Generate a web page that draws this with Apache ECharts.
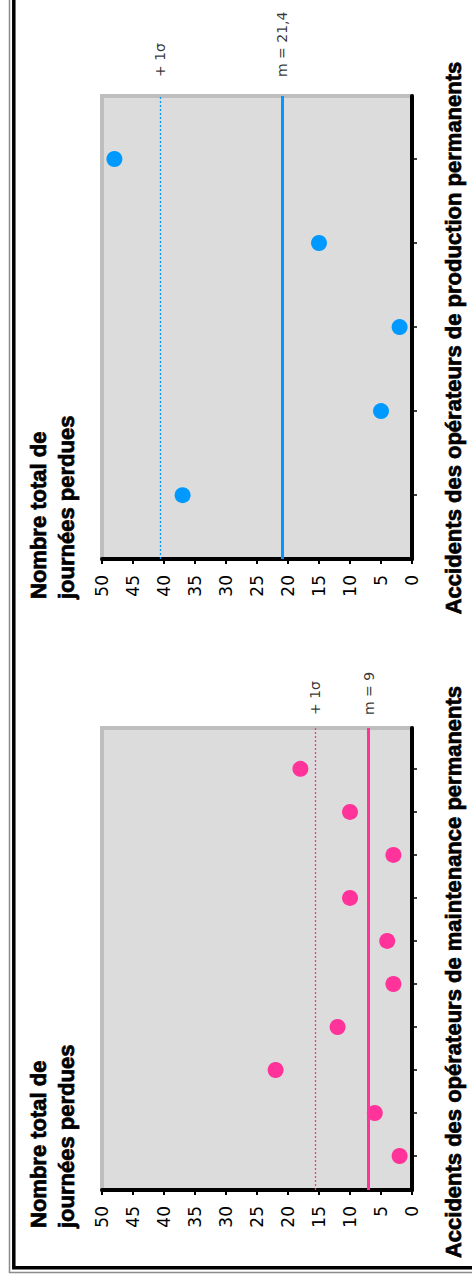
<!DOCTYPE html>
<html>
<head>
<meta charset="utf-8">
<script src="https://cdn.jsdelivr.net/npm/echarts@6/dist/echarts.min.js"></script>
<style>
html, body { margin: 0; padding: 0; background: #fff; }
#chart { width: 472px; height: 1285px; }
</style>
</head>
<body>
<div id="chart"></div>
<script>
// ---- Data ----
const valueTicks = [0, 5, 10, 15, 20, 25, 30, 35, 40, 45, 50];
const valueAxisTitle = 'Nombre total de\njournées perdues';

const prodTitle = 'Accidents des opérateurs de production permanents';
const prodCategories = [1, 2, 3, 4, 5];
const prodValues = [37, 5, 2, 15, 48];
const prodMean = 20.9;
const prodSigma = 40.6;
const prodMeanLabel = 'm = 21,4';
const prodSigmaLabel = '+ 1σ';

const maintTitle = 'Accidents des opérateurs de maintenance permanents';
const maintCategories = [1, 2, 3, 4, 5, 6, 7, 8, 9, 10];
const maintValues = [2, 6, 22, 12, 3, 4, 10, 3, 10, 18];
const maintMean = 7.0;
const maintSigma = 15.6;
const maintMeanLabel = 'm = 9';
const maintSigmaLabel = '+ 1σ';

// ---- Styles ----
const BLUE = '#0099ff';
const PINK = '#ff3399';
const TICK_FONT = 'DejaVu Sans';
const TITLE_FONT = 'Liberation Sans';

const prodRange = { min: 0.24, max: 5.75 };
const maintRange = { min: 0.21, max: 10.95 };

function valueAxis(gridIndex) {
  return {
    type: 'value', gridIndex: gridIndex, inverse: true,
    min: valueTicks[0], max: valueTicks[valueTicks.length - 1],
    interval: valueTicks[1] - valueTicks[0],
    position: 'bottom',
    axisLine: { show: true, onZero: false, lineStyle: { color: '#000', width: 4 } },
    axisTick: { show: true, length: 5, lineStyle: { color: '#000', width: 2 } },
    axisLabel: { rotate: 90, margin: 16, fontSize: 17, fontFamily: TICK_FONT, color: '#000' },
    splitLine: { show: false }
  };
}
function catAxis(gridIndex, range, cats) {
  return {
    type: 'value', gridIndex: gridIndex, min: range.min, max: range.max,
    position: 'right',
    axisLine: { show: true, onZero: false, lineStyle: { color: '#000', width: 4 } },
    axisTick: { show: true, length: 5, customValues: cats, lineStyle: { color: '#000', width: 1.5 } },
    axisLabel: { show: false, customValues: cats },
    splitLine: { show: false }
  };
}
function refSeries(idx, color, mean, sigma, meanLabel, sigmaLabel, yMax, dist) {
  return {
    type: 'scatter', xAxisIndex: idx, yAxisIndex: idx,
    symbolSize: 0, silent: true,
    data: [
      { name: meanLabel, value: [mean, yMax] },
      { name: sigmaLabel, value: [sigma, yMax] }
    ],
    label: {
      show: true, formatter: p => p.name, position: 'top', distance: dist,
      rotate: 90, align: 'left', verticalAlign: 'middle',
      fontSize: 14, fontFamily: TICK_FONT, color: '#000'
    },
    markLine: {
      silent: true, symbol: ['none', 'none'], label: { show: false },
      data: [
        { xAxis: mean, lineStyle: { color: color, type: 'solid', width: 3, opacity: 1 } },
        { xAxis: sigma, lineStyle: { color: color, type: [2, 2], width: 1.3, opacity: 1 } }
      ]
    }
  };
}
function pointSeries(idx, color, cats, vals) {
  return {
    type: 'scatter', xAxisIndex: idx, yAxisIndex: idx,
    symbol: 'circle', symbolSize: 16,
    itemStyle: { color: color, opacity: 1 },
    data: vals.map((v, i) => [v, cats[i]])
  };
}

const gridStyle = { show: true, backgroundColor: '#dcdcdc', borderColor: '#bebebe', borderWidth: 4 };
const titleStyle = { fontSize: 22, fontWeight: 'bold', fontFamily: TITLE_FONT, fill: '#000', stroke: '#000', lineWidth: 0.7 };

const chart = echarts.init(document.getElementById('chart'), null, { renderer: 'svg' });
chart.setOption({
  animation: false,
  backgroundColor: '#fff',
  grid: [
    Object.assign({ left: 102, right: 60, top: 96, height: 463 }, gridStyle),
    Object.assign({ left: 102, right: 60, top: 728, height: 462 }, gridStyle)
  ],
  xAxis: [valueAxis(0), valueAxis(1)],
  yAxis: [catAxis(0, prodRange, prodCategories), catAxis(1, maintRange, maintCategories)],
  series: [
    refSeries(0, BLUE, prodMean, prodSigma, prodMeanLabel, prodSigmaLabel, prodRange.max, 19),
    pointSeries(0, BLUE, prodCategories, prodValues),
    refSeries(1, PINK, maintMean, maintSigma, maintMeanLabel, maintSigmaLabel, maintRange.max, 13),
    pointSeries(1, PINK, maintCategories, maintValues)
  ],
  graphic: [
    { type: 'polyline', silent: true, shape: { points: [[9.5, 0], [9.5, 1272.5], [472, 1272.5]] },
      style: { stroke: '#8c8c8c', lineWidth: 1.5, fill: null } },
    { type: 'polyline', silent: true, shape: { points: [[13.8, 0], [13.8, 1267.7], [472, 1267.7]] },
      style: { stroke: '#000', lineWidth: 3.5, fill: null } },
    { type: 'text', silent: true, x: 24, y: 599, rotation: Math.PI / 2,
      style: Object.assign({ text: valueAxisTitle, align: 'left', verticalAlign: 'top', lineHeight: 28 }, titleStyle) },
    { type: 'text', silent: true, x: 24, y: 1228, rotation: Math.PI / 2,
      style: Object.assign({ text: valueAxisTitle, align: 'left', verticalAlign: 'top', lineHeight: 28 }, titleStyle) },
    { type: 'text', silent: true, x: 453, y: 338, rotation: Math.PI / 2,
      style: Object.assign({ text: prodTitle, align: 'center', verticalAlign: 'middle' }, titleStyle) },
    { type: 'text', silent: true, x: 453, y: 972, rotation: Math.PI / 2,
      style: Object.assign({ text: maintTitle, align: 'center', verticalAlign: 'middle' }, titleStyle) }
  ]
});
</script>
</body>
</html>
